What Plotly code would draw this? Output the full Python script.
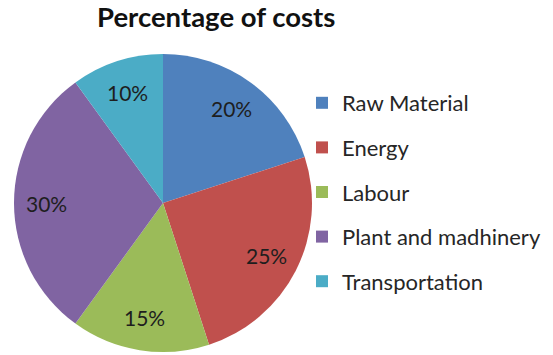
import math
import plotly.graph_objects as go

categories = ["Raw Material", "Energy", "Labour", "Plant and madhinery", "Transportation"]
shares = [20, 25, 15, 30, 10]
colors = ["#4F81BD", "#C0504D", "#9BBB59", "#8064A2", "#4BACC6"]
title_text = "Percentage of costs"

W, H = 553, 355
FONT = "Lato"

# pie placement in pixels (centre and radius)
CX, CY, R = 163, 203, 149
LABEL_R = 0.78  # label distance from centre, as a fraction of the radius

fig = go.Figure()

fig.add_trace(go.Pie(
    labels=categories,
    values=shares,
    sort=False,
    direction="clockwise",
    rotation=0,
    marker=dict(colors=colors, line=dict(width=0)),
    textinfo="none",
    hoverinfo="label+percent",
    showlegend=False,
    domain=dict(x=[(CX - R) / W, (CX + R) / W], y=[(H - CY - R) / H, (H - CY + R) / H]),
))

# percentage labels at each slice's mid-angle
total = sum(shares)
cum = 0
for v in shares:
    mid = (cum + v / 2) / total * 2 * math.pi  # clockwise from 12 o'clock
    cum += v
    px = CX + LABEL_R * R * math.sin(mid)
    py = CY - LABEL_R * R * math.cos(mid)
    fig.add_annotation(
        x=px / W, y=1 - py / H, xref="paper", yref="paper",
        text=f"{v}%", showarrow=False,
        xanchor="center", yanchor="middle",
        font=dict(family=FONT, size=21, color="#1e1e1e"),
    )

# legend entries, one group each so the gap between rows can be set
for name, col in zip(categories, colors):
    fig.add_trace(go.Scatter(
        x=[None], y=[None], mode="markers", name=name,
        legendgroup=name,
        marker=dict(symbol="square", size=12, color=col),
    ))

fig.update_layout(
    width=W, height=H,
    margin=dict(l=0, r=0, t=0, b=0),
    paper_bgcolor="white",
    plot_bgcolor="white",
    font=dict(family=FONT),
    title=dict(
        text="<b>" + title_text + "</b>",
        font=dict(family=FONT, size=27.5, color="#111111"),
        x=97 / W, xanchor="left",
        y=1 - 17 / H, yanchor="middle", yref="container",
        pad=dict(t=0, b=0, l=0, r=0),
    ),
    xaxis=dict(visible=False),
    yaxis=dict(visible=False),
    legend=dict(
        x=302 / W, xanchor="left",
        y=1 - 82 / H, yanchor="top",
        font=dict(family=FONT, size=22, color="#262626"),
        tracegroupgap=13,
        bgcolor="rgba(0,0,0,0)",
        borderwidth=0,
    ),
)

fig.write_html("out.html")
